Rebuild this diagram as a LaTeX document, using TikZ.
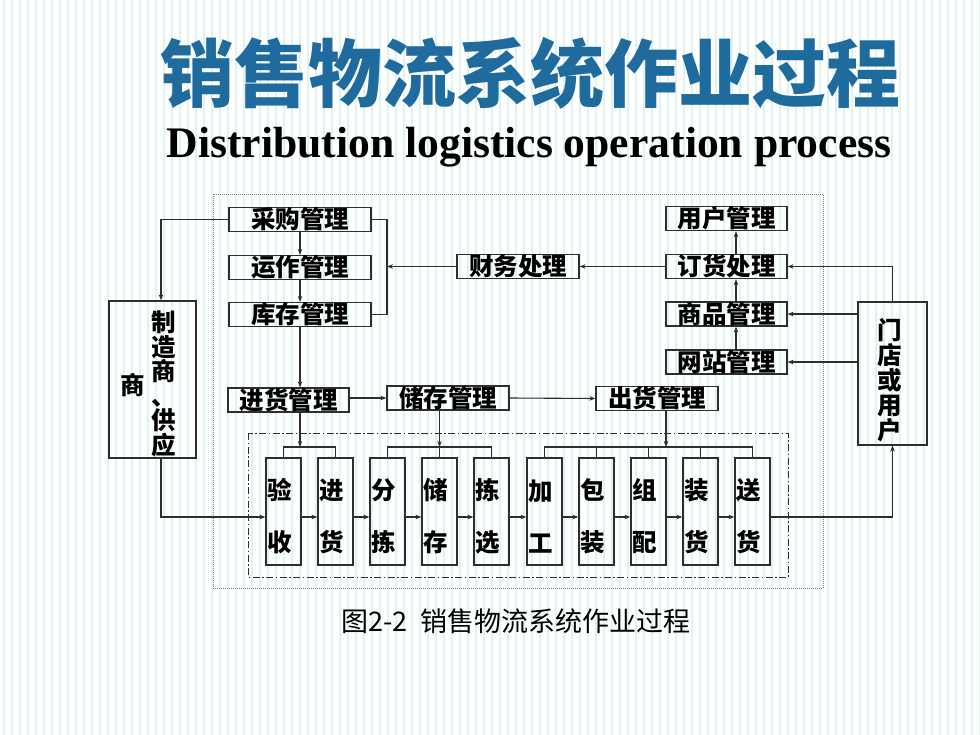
\documentclass[tikz,border=0pt]{standalone}
\usepackage{fontspec}
\newfontfamily\cjk{Noto Sans CJK SC}
\newfontfamily\tnr{Liberation Serif}
\usetikzlibrary{arrows.meta}
\definecolor{titleblue}{HTML}{1F6B9E}
\definecolor{stripe}{HTML}{DDF4EF}
\definecolor{linegray}{HTML}{2E2E2E}
\begin{document}
\begin{tikzpicture}[x=1pt,y=-1pt,
  topbox/.style={draw=linegray,line width=1.2pt,inner sep=0pt,minimum width=121pt,minimum height=24pt,font=\cjk\bfseries\fontsize{24.5}{24.5}\selectfont},
  stepcol/.style={draw=linegray,line width=1.2pt,inner sep=1pt,text width=33pt,minimum height=107pt,align=left,font=\cjk\bfseries\fontsize{24.5}{52}\selectfont,execute at begin node=\rule{0pt}{31pt}},
  sidebox/.style={draw=linegray,line width=1.2pt,inner sep=0pt},
  vtext/.style={align=center,inner sep=0pt,font=\cjk\bfseries\fontsize{24.5}{24.5}\selectfont},
  conn/.style={draw=linegray,line width=1.1pt},
  arr/.style={conn,-{Stealth[length=6pt,width=4.5pt]}},
]
\useasboundingbox (0,0) rectangle (980,735);
\fill[white] (0,0) rectangle (980,735);
\foreach \i in {0,...,122} \draw[stripe,line width=1.6pt] (\i*8+4,0) -- (\i*8+4,735);

% titles
\node[font=\cjk\bfseries\fontsize{74}{74}\selectfont,text=titleblue,inner sep=0pt] (title) at (530,73) {销售物流系统作业过程};
\node[font=\tnr\bfseries\fontsize{43.6}{43.6}\selectfont,anchor=base,inner sep=0pt] (sub) at (529,158) {Distribution logistics operation process};

% frames
\draw[gray,line width=0.8pt,dash pattern=on 1pt off 1pt] (213,194) rectangle (823,588);
\draw[linegray,line width=0.9pt,dash pattern=on 7pt off 2.5pt on 1.5pt off 2.5pt] (248,433) rectangle (788,577);

% left column boxes
\node[topbox,minimum width=142pt] (cg) at (300,219.5) {采购管理};
\node[topbox,minimum width=142pt] (yz) at (300,267.5) {运作管理};
\node[topbox,minimum width=142pt] (kc) at (300,314.5) {库存管理};
\node[topbox] (jh) at (288.5,400) {进货管理};
\node[topbox,minimum width=122pt] (cc) at (448,398) {储存管理};
\node[topbox,minimum width=122pt] (ch) at (657,398.5) {出货管理};
\node[topbox,minimum width=122pt] (cw) at (518,266.5) {财务处理};
% right column boxes
\node[topbox] (yh) at (726.5,218.5) {用户管理};
\node[topbox] (dh) at (726.5,266.5) {订货处理};
\node[topbox] (sp) at (726.5,314) {商品管理};
\node[topbox] (wz) at (726.5,362) {网站管理};

% side boxes
\node[sidebox,minimum width=87pt,minimum height=157pt] (mfr) at (152.5,379.5) {};
\node[vtext] (mfrA) at (164,384) {制\\造\\商\\、\\供\\应};
\node[vtext] (mfrB) at (133,385) {商};
\node[sidebox,minimum width=69pt,minimum height=143pt] (store) at (892.5,373.5) {};
\node[vtext,font=\cjk\bfseries\fontsize{24.5}{25}\selectfont] (storeT) at (890,380) {门\\店\\或\\用\\户};

% step columns
\node[stepcol] (b0) at (283.5,511.5) {验\\收};
\node[stepcol] (b1) at (335.5,511.5) {进\\货};
\node[stepcol] (b2) at (387.5,511.5) {分\\拣};
\node[stepcol] (b3) at (439.5,511.5) {储\\存};
\node[stepcol] (b4) at (491.5,511.5) {拣\\选};
\node[stepcol] (b5) at (544.5,511.5) {加\\工};
\node[stepcol] (b6) at (596.5,511.5) {包\\装};
\node[stepcol] (b7) at (648.5,511.5) {组\\配};
\node[stepcol] (b8) at (700.5,511.5) {装\\货};
\node[stepcol] (b9) at (752.5,511.5) {送\\货};

% caption
\node[font=\cjk\fontsize{27}{27}\selectfont,inner sep=0pt] (cap) at (516,621) {图2-2\hspace{0.5em}销售物流系统作业过程};

% coordinates
\coordinate (g1) at (300,447);
\coordinate (g2) at (439.5,447);
\coordinate (g3) at (666,447);
\coordinate (flow) at (0,517);
\coordinate (m1) at (161,517);
\coordinate (kx) at (387,0);
\coordinate (rx) at (736,0);

% vertical chain left
\draw[arr] (cg.south) -- (yz.north);
\draw[arr] (yz.south) -- (kc.north);
\draw[arr] (kc.south) -- (kc.south |- jh.north);
% bracket to finance
\draw[conn] (cg.east) -| (kx |- kc.east) -- (kc.east);
\draw[arr] (cw.west) -- (cw.west -| kx);
\draw[arr] (dh.west) -- (cw.east);
% right chain
\draw[arr] (wz.north -| rx) -- (sp.south -| rx);
\draw[arr] (sp.north -| rx) -- (dh.south -| rx);
\draw[arr] (dh.north -| rx) -- (yh.south -| rx);
\draw[arr] (store.north) |- (dh.east);
\draw[arr] (store.west |- sp.east) -- (sp.east);
\draw[arr] (store.west |- wz.east) -- (wz.east);
% management row
\draw[arr] (jh.east |- cc.west) -- (cc.west);
\draw[arr] (cc.east) -- (ch.west);
% supplier links
\draw[arr] (cg.west) -| (mfr.north -| m1);
\draw[arr] (mfr.south -| m1) -- (m1) -- (b0.west |- m1);
% brackets
\draw[conn] (b0.north) |- (g1) -| (b1.north);
\draw[conn] (b2.north) |- (g2) -| (b4.north);
\draw[conn] (g2) -- (b3.north);
\draw[conn] (b5.north) |- (g3) -| (b9.north);
\draw[conn] (b6.north) -- (b6.north |- g3);
\draw[conn] (b7.north) -- (b7.north |- g3);
\draw[conn] (b8.north) -- (b8.north |- g3);
\draw[arr] (jh.south -| g1) -- (g1);
\draw[arr] (cc.south -| g2) -- (g2);
\draw[arr] (ch.south -| g3) -- (g3);
% flow
\draw[arr] (b0.east |- flow) -- (b1.west |- flow);
\draw[arr] (b1.east |- flow) -- (b2.west |- flow);
\draw[arr] (b2.east |- flow) -- (b3.west |- flow);
\draw[arr] (b3.east |- flow) -- (b4.west |- flow);
\draw[arr] (b4.east |- flow) -- (b5.west |- flow);
\draw[arr] (b5.east |- flow) -- (b6.west |- flow);
\draw[arr] (b6.east |- flow) -- (b7.west |- flow);
\draw[arr] (b7.east |- flow) -- (b8.west |- flow);
\draw[arr] (b8.east |- flow) -- (b9.west |- flow);
\draw[arr] (b9.east |- flow) -| (store.south);
\end{tikzpicture}
\end{document}
